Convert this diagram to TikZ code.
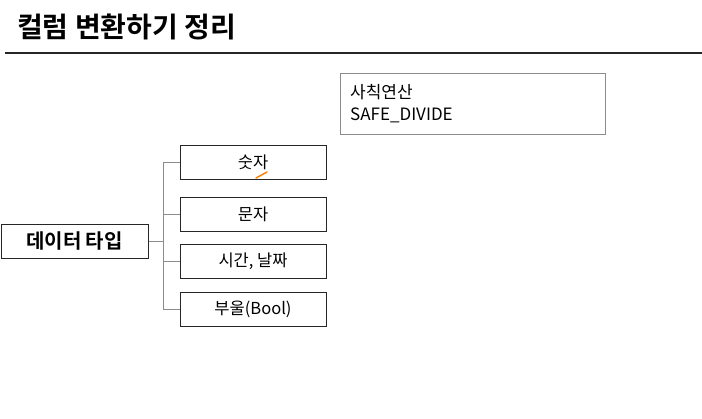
\documentclass[tikz,border=0pt]{standalone}
\usepackage{fontspec}
\setmainfont{Noto Sans CJK KR}
\newfontfamily\kr{Noto Sans CJK KR}
\newfontfamily\krb{Noto Sans CJK KR Bold}
\begin{document}
\begin{tikzpicture}[x=1pt,y=-1pt,
  box/.style={draw=black!85,line width=1pt,minimum width=146pt,minimum height=34pt,inner sep=0pt,font=\kr\fontsize{16.5}{18}\selectfont},
  conn/.style={draw=black!45,line width=1pt}]
\useasboundingbox (0,0) rectangle (702,418);
\node[anchor=west,font=\krb\fontsize{28}{32}\selectfont,inner sep=0pt] (title) at (17,27) {컬럼 변환하기 정리};
\coordinate (l1) at (5,53);
\coordinate (l2) at (702,53);
\draw[line width=1.6pt,black!85] (l1) -- (l2);
\node[draw=black!45,line width=0.8pt,minimum width=265pt,minimum height=61pt,inner sep=0pt] (calc) at (472.5,103.5) {};
\node[anchor=north west,align=left,font=\kr\fontsize{17}{22}\selectfont,inner sep=0pt] (calct) at (350,84) {사칙연산\\SAFE\_DIVIDE};
\node[box,font=\krb\fontsize{20}{22}\selectfont,minimum width=147pt] (dt) at (74.5,241) {데이터 타입};
\node[box] (b1) at (253,162) {숫자};
\node[box] (b2) at (253,214) {문자};
\node[box] (b3) at (253,261) {시간, 날짜};
\node[box] (b4) at (253,309) {부울(Bool)};
\coordinate (j) at (163,241);
\draw[conn] (dt.east) -- (j);
\draw[conn] (b1.west) -| (j);
\draw[conn] (b2.west) -| (j);
\draw[conn] (b3.west) -| (j);
\draw[conn] (b4.west) -| (j);
\coordinate (o1) at (256,178);
\coordinate (o2) at (267,172);
\draw[orange,line width=1.5pt,line cap=round] (o1) -- (o2);
\end{tikzpicture}
\end{document}
